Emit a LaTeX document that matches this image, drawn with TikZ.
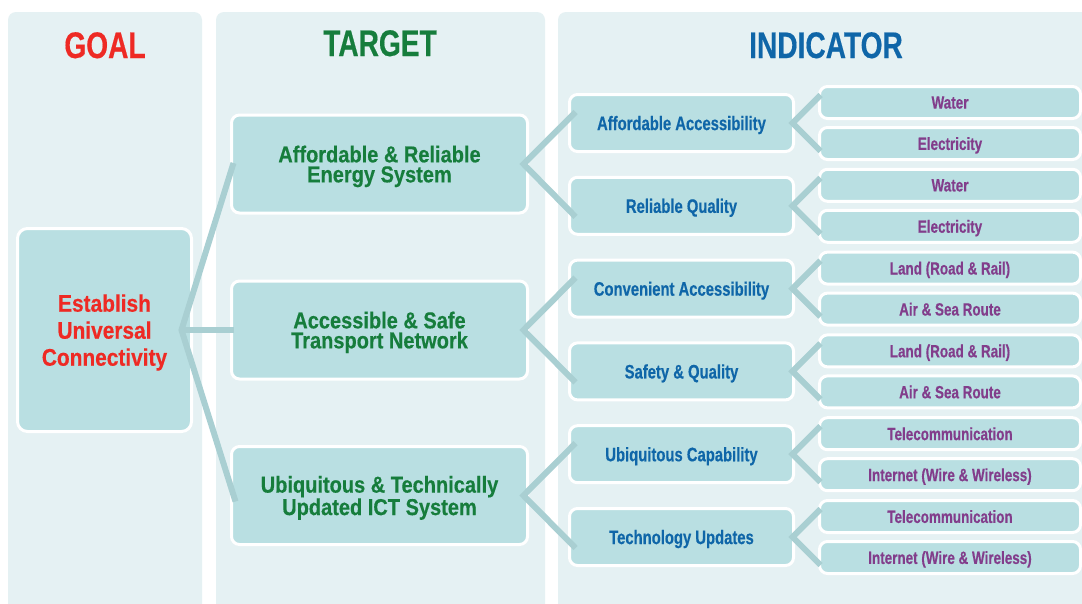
\documentclass[tikz,border=0pt]{standalone}
\usepackage{fontspec}
\setmainfont{Liberation Sans}
\newfontfamily\condA{Liberation Sans Bold}[FakeStretch=0.76, FakeBold=0.4]
\newfontfamily\condB{Liberation Sans Bold}[FakeStretch=0.87, FakeBold=0.4]
\usetikzlibrary{calc}
\definecolor{bgc}{HTML}{E5F1F3}
\definecolor{nodec}{HTML}{B9DFE2}
\definecolor{linec}{HTML}{A9CFD2}
\definecolor{goalred}{HTML}{EE2A24}
\definecolor{tgreen}{HTML}{167D3C}
\definecolor{iblue}{HTML}{0F66A8}
\definecolor{lpurple}{HTML}{823D8B}
\begin{document}
\begin{tikzpicture}[x=1pt,y=-1pt,
  colbg/.style={fill=bgc, rounded corners=8pt},
  box/.style={draw=white, line width=3pt, fill=nodec, rounded corners=8pt, align=center, inner sep=0pt, text depth=0pt},
  goalbox/.style={box, minimum width=174pt, minimum height=203pt, text=goalred, font=\condB\fontsize{24}{27}\selectfont, rounded corners=10pt},
  tbox/.style={box, minimum width=296pt, minimum height=98pt, text=tgreen, font=\condB\fontsize{23}{20}\selectfont},
  ibox/.style={box, minimum width=224pt, minimum height=57pt, text=iblue, font=\condA\fontsize{19.5}{22}\selectfont},
  lbox/.style={box, minimum width=261pt, minimum height=32pt, text=lpurple, font=\condA\fontsize{17.7}{20}\selectfont},
  head/.style={anchor=base, font=\condA\fontsize{37}{40}\selectfont},
  conn/.style={draw=linec, line width=6pt, line join=miter}
]
\useasboundingbox (0,0) rectangle (1082,603);
\fill[white] (0,0) rectangle (1082,603);
% column backgrounds
\fill[colbg] (8,12) rectangle (202,612);
\fill[colbg] (216,12) rectangle (545,612);
\fill[colbg] (558,12) rectangle (1100,612);
% headers
\node[head, text=goalred] (hgoal) at (105,58) {GOAL};
\node[head, text=tgreen] (htarget) at (380,56) {TARGET};
\node[head, text=iblue] (hind) at (826,58) {INDICATOR};
% goal
\node[goalbox] (goal) at (104.5,330) {Establish\\Universal\\Connectivity};
% targets
\node[tbox] (t1) at (379.5,164) {Affordable \& Reliable\\Energy System};
\node[tbox] (t2) at (379.5,330) {Accessible \& Safe\\Transport Network};
\node[tbox] (t3) at (379.5,495.5) {Ubiquitous \& Technically\\Updated ICT System};
% indicators level 1
\node[ibox] (i1) at (681.5,123) {Affordable Accessibility};
\node[ibox] (i2) at (681.5,205.8) {Reliable Quality};
\node[ibox] (i3) at (681.5,288.6) {Convenient Accessibility};
\node[ibox] (i4) at (681.5,371.4) {Safety \& Quality};
\node[ibox] (i5) at (681.5,454.2) {Ubiquitous Capability};
\node[ibox] (i6) at (681.5,537) {Technology Updates};
% leaves
\node[lbox] (l1) at (950,102.5) {Water};
\node[lbox] (l2) at (950,143.5) {Electricity};
\node[lbox] (l3) at (950,185.3) {Water};
\node[lbox] (l4) at (950,226.3) {Electricity};
\node[lbox] (l5) at (950,268.1) {Land (Road \& Rail)};
\node[lbox] (l6) at (950,309.1) {Air \& Sea Route};
\node[lbox] (l7) at (950,350.9) {Land (Road \& Rail)};
\node[lbox] (l8) at (950,391.9) {Air \& Sea Route};
\node[lbox] (l9) at (950,433.7) {Telecommunication};
\node[lbox] (l10) at (950,474.7) {Internet (Wire \& Wireless)};
\node[lbox] (l11) at (950,516.5) {Telecommunication};
\node[lbox] (l12) at (950,557.5) {Internet (Wire \& Wireless)};
% connectors goal -> targets
\coordinate (jg) at ($(goal.east)+(-11.5,0)$);
\draw[conn] ($(t1.west)+(3.5,-1)$) -- (jg) -- ($(t3.west)+(5.5,6)$);
\draw[conn] (jg) -- ($(t2.west)+(3.5,0)$);
% connectors targets -> indicators
\foreach \t/\a/\b in {1/1/2, 2/3/4, 3/5/6}{
  \coordinate (jt\t) at ($(t\t.east)+(-5.5,0)$);
  \draw[conn] ($(i\a.west)+(7.5,-11)$) -- (jt\t) -- ($(i\b.west)+(7.5,11)$);
}
% connectors indicators -> leaves
\foreach \i/\a/\b in {1/1/2, 2/3/4, 3/5/6, 4/7/8, 5/9/10, 6/11/12}{
  \coordinate (ji\i) at ($(i\i.east)+(-2.5,0)$);
  \draw[conn] ($(l\a.west)+(2.5,-7.5)$) -- (ji\i) -- ($(l\b.west)+(2.5,7.5)$);
}
\end{tikzpicture}
\end{document}
